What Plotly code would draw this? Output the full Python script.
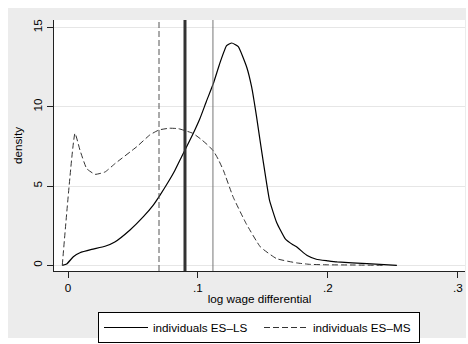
import plotly.graph_objects as go

# ES-LS density (solid)
es_ls_x = [-0.0044, -0.001, 0.0041, 0.0092, 0.0182, 0.0285, 0.036, 0.0477, 0.058, 0.0656,
           0.0708, 0.0772, 0.0823, 0.0874, 0.0964, 0.1015, 0.1065, 0.1118, 0.117, 0.122,
           0.126, 0.131, 0.1375, 0.1413, 0.1451, 0.1477, 0.150, 0.155, 0.1605, 0.167,
           0.173, 0.176, 0.181, 0.184, 0.191, 0.200, 0.207, 0.230, 0.253]
es_ls_y = [0.0, 0.08, 0.54, 0.79, 1.0, 1.2, 1.47, 2.23, 3.07, 3.8,
           4.43, 5.27, 6.0, 6.85, 8.33, 9.26, 10.35, 11.47, 12.8, 13.86,
           14.03, 13.8, 12.5, 11.24, 9.35, 7.9, 6.65, 4.11, 2.7, 1.69,
           1.3, 1.16, 0.8, 0.62, 0.38, 0.28, 0.21, 0.1, 0.0]

# ES-MS density (dashed)
es_ms_x = [-0.0044, 0.0054, 0.0092, 0.0144, 0.0208, 0.0285, 0.0362, 0.053, 0.063, 0.070,
           0.078, 0.085, 0.096, 0.103, 0.108, 0.112, 0.1155, 0.1195, 0.127, 0.137,
           0.148, 0.1605, 0.176, 0.186, 0.200, 0.217, 0.242]
es_ms_y = [0.0, 8.33, 7.27, 6.1, 5.74, 5.89, 6.42, 7.49, 8.23, 8.54,
           8.65, 8.62, 8.33, 7.91, 7.55, 7.2, 6.7, 6.0, 4.32, 2.64,
           1.16, 0.42, 0.15, 0.06, 0.03, 0.02, 0.0]

# vertical reference lines (mean values)
vline_x = [0.070, 0.090, 0.1115]

x_tickvals = [0, 0.1, 0.2, 0.3]
x_ticktext = ["0", ".1", ".2", ".3"]
y_tickvals = [0, 5, 10, 15]
y_ticktext = ["0", "5", "10", "15"]

W, H = 468, 344
L, R, T, B = 54, 3, 20, 73
pw, ph = W - L - R, H - T - B

def px2paperx(px):
    return (px - L) / pw

def px2papery(py):
    return (H - B - py) / ph

fig = go.Figure()

fig.add_trace(go.Scatter(x=es_ls_x, y=es_ls_y, mode="lines", name="individuals ES–LS",
                         line=dict(color="black", width=1.2, shape="spline", smoothing=0.4)))
fig.add_trace(go.Scatter(x=es_ms_x, y=es_ms_y, mode="lines", name="individuals ES–MS",
                         line=dict(color="#333333", width=1, dash="6px,3px", shape="spline", smoothing=0.4)))

shapes = [
    dict(type="rect", xref="paper", yref="paper",
         x0=px2paperx(8), x1=px2paperx(466), y0=px2papery(338), y1=px2papery(8),
         fillcolor="#ececec", line=dict(width=0), layer="below"),
    dict(type="rect", xref="paper", yref="paper", x0=0, x1=1, y0=0, y1=1,
         fillcolor="white", line=dict(width=0), layer="below"),
]
vstyles = [dict(color="#555555", width=1, dash="6px,3px"),
           dict(color="#333333", width=3),
           dict(color="#777777", width=1)]
for xv, st in zip(vline_x, vstyles):
    shapes.append(dict(type="line", xref="x", yref="paper", x0=xv, x1=xv, y0=0, y1=1,
                       line=st, layer="above"))

font = "Liberation Sans, Arial, sans-serif"
FS = 11.7
fig.update_layout(
    width=W, height=H,
    margin=dict(l=L, r=R, t=T, b=B, pad=0, autoexpand=False),
    paper_bgcolor="white", plot_bgcolor="rgba(0,0,0,0)",
    shapes=shapes,
    font=dict(family=font, size=FS, color="black"),
    showlegend=True,
    legend=dict(orientation="h", x=px2paperx(98), xanchor="left",
                y=px2papery(312), yanchor="top",
                bgcolor="white", bordercolor="black", borderwidth=1,
                font=dict(size=FS), itemwidth=44, entrywidth=101, tracegroupgap=0),
    xaxis=dict(range=[-0.01077, 0.3054], tickvals=x_tickvals, ticktext=x_ticktext,
               showgrid=False, zeroline=False, showline=True, linecolor="#222222", linewidth=1,
               ticks="outside", ticklen=6, tickcolor="#222222", automargin=False,
               title=dict(text="log wage differential", standoff=1, font=dict(size=FS))),
    yaxis=dict(range=[-0.36, 15.48], tickvals=y_tickvals, ticktext=y_ticktext,
               showgrid=True, gridcolor="#e6e6e6", gridwidth=1, zeroline=False,
               showline=True, linecolor="#222222", linewidth=1,
               ticks="outside", ticklen=6, tickcolor="#222222", tickangle=-90, automargin=False,
               title=dict(text="density", standoff=6, font=dict(size=FS))),
)

fig.write_html("out.html")
